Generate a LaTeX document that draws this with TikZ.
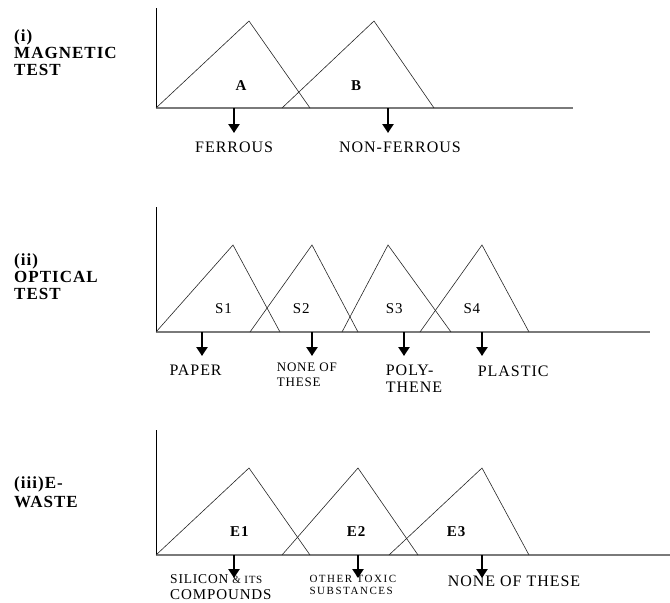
\documentclass[tikz,border=0pt]{standalone}
\usepackage{fontspec}
\setmainfont[LetterSpace=6]{Liberation Serif}
\newfontfamily\tightfont[LetterSpace=14]{Liberation Serif}
\usetikzlibrary{arrows.meta,positioning}
\definecolor{axisgray}{HTML}{7a7a7a}

\begin{document}
\begin{tikzpicture}[x=1pt,y=-1pt]

      \useasboundingbox (0,0) rectangle (670,603);

      \tikzset{
            axis/.style = {line width=1.3pt, draw=axisgray},
            yaxis/.style = {line width=1pt},
            tri/.style = {line width=0.6pt, draw=black!85},
            down/.style = {-{Triangle[width=11pt,length=9pt]}, line width=2.8pt},
            txt/.style = {inner sep=0pt, anchor=base west, align=left},
            title/.style = {txt, font=\bfseries\fontsize{17}{17}\selectfont},
            big/.style = {txt, font=\fontsize{16}{17.7}\selectfont},
            mid/.style = {txt, font=\fontsize{15}{15}\selectfont},
            small/.style = {txt, font=\fontsize{13}{15}\selectfont},
            bset/.style = {txt, font=\bfseries\fontsize{15}{15}\selectfont}
      }

      % ---------- (i) magnetic test ----------
      % (multi-line nodes sit on the baseline of their last line)
      \node[title] (magtitle) at (14,75) {(i)\\MAGNETIC\\TEST};

      % Draw axes
      \draw[yaxis] (156,8) -- (156,108);
      \draw[axis] (156,108) -- (573,108);

      % Triangles: left foot / peak / right foot
      \foreach \l/\p/\r in {156/249/310, 282/374/434}
            \draw[tri] (\l,108) -- (\p,21) -- (\r,108);

      \node[bset] (A) at (235.5,90.5) {A};
      \node[bset] (B) at (351,90.5) {B};

      % Outputs
      \foreach \n/\x in {fer/234, nonfer/388} {
            \coordinate (\n) at (\x,108);
            \draw[down] (\n) -- ++(0,25);
      }
      \node[big] (ferrous) at (195,152.7) {FERROUS};
      \node[big] (nonferrous) at (339,152.3) {NON-FERROUS};

      % ---------- (ii) optical test ----------
      \node[title] (opttitle) at (14,299) {(ii)\\OPTICAL\\TEST};

      % Draw axes
      \draw[yaxis] (156,207) -- (156,332);
      \draw[axis] (156,332) -- (650,332);

      % Triangles
      \foreach \l/\p/\r in {156/233/280, 250/312/358, 342/388/451, 420/482/529}
            \draw[tri] (\l,332) -- (\p,245) -- (\r,332);

      \node[mid] (s1) at (215,313.3) {S1};
      \node[mid] (s2) at (292.7,313.3) {S2};
      \node[mid] (s3) at (385.7,313.3) {S3};
      \node[mid] (s4) at (463.3,313.3) {S4};

      % Outputs
      \foreach \n/\x in {pap/202, non/312, poly/404, plas/482} {
            \coordinate (\n) at (\x,332);
            \draw[down] (\n) -- ++(0,24);
      }
      \node[big] (paper) at (169.3,375) {PAPER};
      \node[small] (none) at (276.7,386.7) {NONE OF\\THESE};
      \node[big] (polythene) at (385.7,392.7) {POLY-\\THENE};
      \node[big] (plastic) at (477.7,376.7) {PLASTIC};

      % ---------- (iii) e-waste ----------
      \node[title] (ewtitle) at (14,507.3) {(iii)E-\\[2pt]WASTE};

      % Draw axes
      \draw[yaxis] (156,430) -- (156,555);
      \draw[axis] (156,555) -- (670,555);

      % Triangles
      \foreach \l/\p/\r in {156/249/310, 282/358/418, 389/482/529}
            \draw[tri] (\l,555) -- (\p,468) -- (\r,555);

      \node[bset] (e1) at (230,536) {E1};
      \node[bset] (e2) at (346.7,536) {E2};
      \node[bset] (e3) at (446.7,536) {E3};

      % Outputs
      \foreach \n/\x in {sil/234, tox/358, nne/482} {
            \coordinate (\n) at (\x,555);
            \draw[down] (\n) -- ++(0,23);
      }
      \node[txt, font=\fontsize{13.5}{16}\selectfont] (silicon) at (170,599.3)
            {SILICON {\fontsize{11}{11}\selectfont\&\ ITS}\\{\fontsize{15}{15}\selectfont COMPOUNDS}};
      \node[txt, font=\tightfont\fontsize{11}{11.3}\selectfont] (toxic) at (309.3,594)
            {OTHER TOXIC\\SUBSTANCES};
      \node[big] (nonethese) at (447.7,586.7) {NONE OF THESE};

\end{tikzpicture}
\end{document}
